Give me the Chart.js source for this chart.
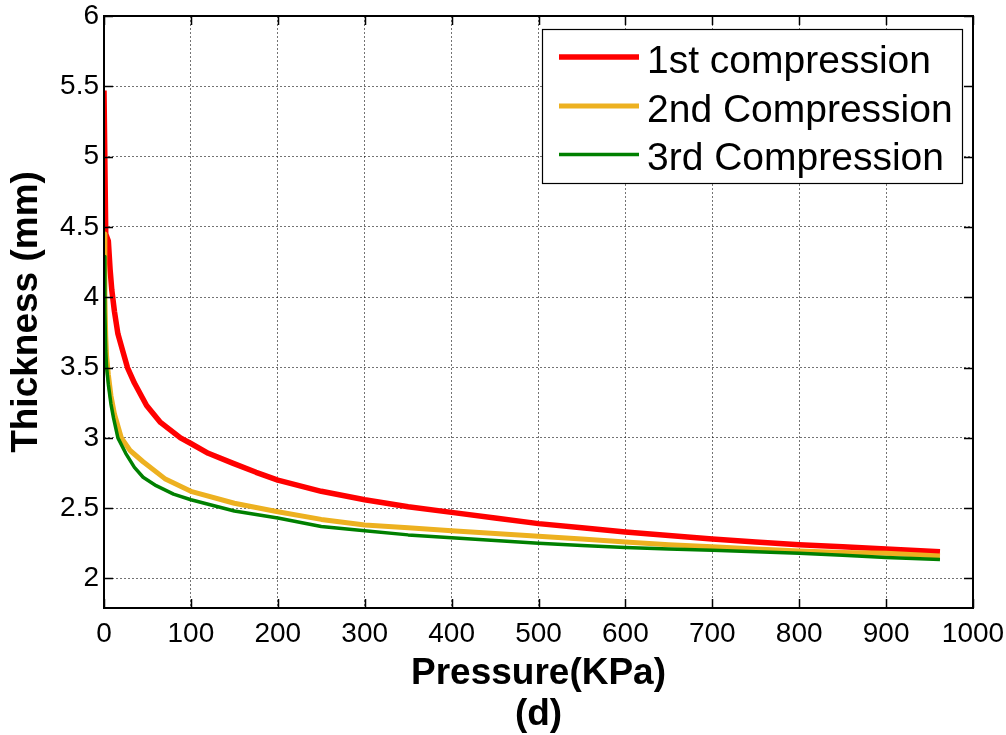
<!DOCTYPE html>
<html>
<head>
<meta charset="utf-8">
<script src="https://cdn.jsdelivr.net/npm/chart.js@4.4.1/dist/chart.umd.min.js"></script>
<style>
  html, body { margin: 0; padding: 0; background: #fff; }
  #wrap { width: 1006px; height: 735px; }
</style>
</head>
<body>
<div id="wrap"><canvas id="c" width="1006" height="735"></canvas></div>
<script>
// Compression curves: thickness (mm) against applied pressure (kPa)
const pressure1st = [0, 2, 5, 7, 9, 12, 16, 21, 27, 35, 49, 65, 88, 100, 120, 148, 175, 200, 250, 300, 350, 400, 450, 500, 550, 600, 650, 700, 750, 800, 850, 900, 962];
const thickness1st = [5.47, 4.45, 4.40, 4.20, 4.05, 3.90, 3.74, 3.63, 3.50, 3.39, 3.23, 3.11, 3.00, 2.96, 2.89, 2.82, 2.755, 2.70, 2.62, 2.56, 2.51, 2.47, 2.43, 2.39, 2.36, 2.33, 2.305, 2.28, 2.26, 2.24, 2.225, 2.21, 2.19];

const pressure2nd = [0, 1, 2, 3, 5, 8, 12, 20, 30, 45, 70, 100, 150, 200, 250, 300, 350, 400, 450, 500, 550, 600, 650, 700, 750, 800, 850, 900, 962];
const thickness2nd = [4.45, 4.00, 3.72, 3.58, 3.45, 3.30, 3.17, 3.00, 2.91, 2.83, 2.71, 2.62, 2.535, 2.475, 2.42, 2.38, 2.36, 2.34, 2.32, 2.30, 2.28, 2.26, 2.24, 2.225, 2.21, 2.195, 2.185, 2.18, 2.16];

const pressure3rd = [0, 1, 2, 3, 5, 8, 11, 16, 25, 35, 45, 60, 80, 100, 150, 200, 250, 300, 350, 400, 450, 500, 550, 600, 650, 700, 750, 800, 850, 900, 962];
const thickness3rd = [4.29, 3.90, 3.62, 3.50, 3.38, 3.24, 3.14, 3.00, 2.89, 2.79, 2.72, 2.66, 2.60, 2.56, 2.48, 2.43, 2.37, 2.34, 2.31, 2.29, 2.27, 2.25, 2.235, 2.22, 2.21, 2.20, 2.19, 2.18, 2.165, 2.15, 2.135];

const seriesNames = ['1st compression', '2nd Compression', '3rd Compression'];
const seriesColors = ['#ff0000', '#edb120', '#008000'];
const seriesWidths = [5.5, 5, 3.5];

const xTicks = [0, 100, 200, 300, 400, 500, 600, 700, 800, 900, 1000];
const yTicks = [2, 2.5, 3, 3.5, 4, 4.5, 5, 5.5, 6];

const FONT = "'Liberation Sans', Arial, Helvetica, sans-serif";

function toPoints(xs, ys) {
  return xs.map((v, i) => ({ x: v, y: ys[i] }));
}

const seriesData = [
  toPoints(pressure1st, thickness1st),
  toPoints(pressure2nd, thickness2nd),
  toPoints(pressure3rd, thickness3rd)
];

// Axes box with inward tick marks on all four sides, plus a boxed legend
const framePlugin = {
  id: 'frame',
  afterDatasetsDraw(chart) {
    const { ctx, chartArea: a, scales: { x, y } } = chart;
    ctx.save();
    ctx.strokeStyle = '#000';
    ctx.lineWidth = 1.5;
    ctx.beginPath();
    x.ticks.forEach(t => {
      const px = Math.round(x.getPixelForValue(t.value)) + 0.5;
      ctx.moveTo(px, a.bottom); ctx.lineTo(px, a.bottom - 9);
      ctx.moveTo(px, a.top); ctx.lineTo(px, a.top + 9);
    });
    y.ticks.forEach(t => {
      const py = Math.round(y.getPixelForValue(t.value)) + 0.5;
      ctx.moveTo(a.left, py); ctx.lineTo(a.left + 9, py);
      ctx.moveTo(a.right, py); ctx.lineTo(a.right - 9, py);
    });
    ctx.stroke();
    ctx.lineWidth = 2;
    ctx.strokeRect(a.left, a.top, a.right - a.left, a.bottom - a.top);

    // legend
    const bx = 542.5, by = 29.5, bw = 420, bh = 154;
    ctx.fillStyle = '#fff';
    ctx.fillRect(bx, by, bw, bh);
    ctx.lineWidth = 1.2;
    ctx.strokeStyle = '#000';
    ctx.strokeRect(bx, by, bw, bh);
    const rows = [57, 106, 154.5];
    chart.data.datasets.forEach((ds, i) => {
      ctx.strokeStyle = ds.borderColor;
      ctx.lineWidth = ds.borderWidth;
      ctx.beginPath();
      ctx.moveTo(559, rows[i]);
      ctx.lineTo(639, rows[i]);
      ctx.stroke();
      ctx.fillStyle = '#000';
      ctx.font = '39px ' + FONT;
      ctx.textBaseline = 'alphabetic';
      ctx.textAlign = 'left';
      ctx.fillText(ds.label, 647, rows[i] + 15.5);
    });
    ctx.restore();
  }
};

new Chart(document.getElementById('c'), {
  type: 'scatter',
  data: {
    datasets: seriesData.map((pts, i) => ({
      label: seriesNames[i],
      data: pts,
      showLine: true,
      borderColor: seriesColors[i],
      backgroundColor: seriesColors[i],
      borderWidth: seriesWidths[i],
      pointRadius: 0,
      pointHoverRadius: 0,
      tension: 0,
      borderJoinStyle: 'round',
      order: 3 - i
    }))
  },
  options: {
    responsive: false,
    animation: false,
    events: [],
    layout: { padding: { left: 0, top: 16, right: 33, bottom: 0 } },
    plugins: {
      legend: { display: false },
      tooltip: { enabled: false },
      title: { display: false }
    },
    scales: {
      x: {
        type: 'linear',
        min: 0,
        max: 1000,
        afterBuildTicks: s => { s.ticks = xTicks.map(v => ({ value: v })); },
        afterFit: s => { s.height = 127; s.paddingLeft = 0; s.paddingRight = 0; },
        grid: { color: 'rgba(0,0,0,0.55)', lineWidth: 1, drawTicks: false },
        border: { display: false, dash: [2, 2] },
        ticks: {
          color: '#000',
          font: { family: FONT, size: 28 },
          padding: 9,
          maxRotation: 0,
          autoSkip: false,
          callback: v => String(v)
        },
        title: {
          display: true,
          text: ['Pressure(KPa)', '(d)'],
          color: '#000',
          font: { family: FONT, size: 37, weight: 'bold', lineHeight: '41px' },
          padding: { top: 0, bottom: 0 }
        }
      },
      y: {
        type: 'linear',
        min: 1.79,
        max: 6,
        afterBuildTicks: s => { s.ticks = yTicks.map(v => ({ value: v })); },
        afterFit: s => { s.width = 104; s.paddingTop = 0; s.paddingBottom = 0; },
        grid: { color: 'rgba(0,0,0,0.55)', lineWidth: 1, drawTicks: false },
        border: { display: false, dash: [2, 2] },
        ticks: {
          color: '#000',
          font: { family: FONT, size: 28 },
          padding: 5,
          autoSkip: false,
          callback: v => String(v)
        },
        title: {
          display: true,
          text: 'Thickness (mm)',
          color: '#000',
          font: { family: FONT, size: 37, weight: 'bold' },
          padding: { top: 5, bottom: 0 }
        }
      }
    }
  },
  plugins: [framePlugin]
});
</script>
</body>
</html>
